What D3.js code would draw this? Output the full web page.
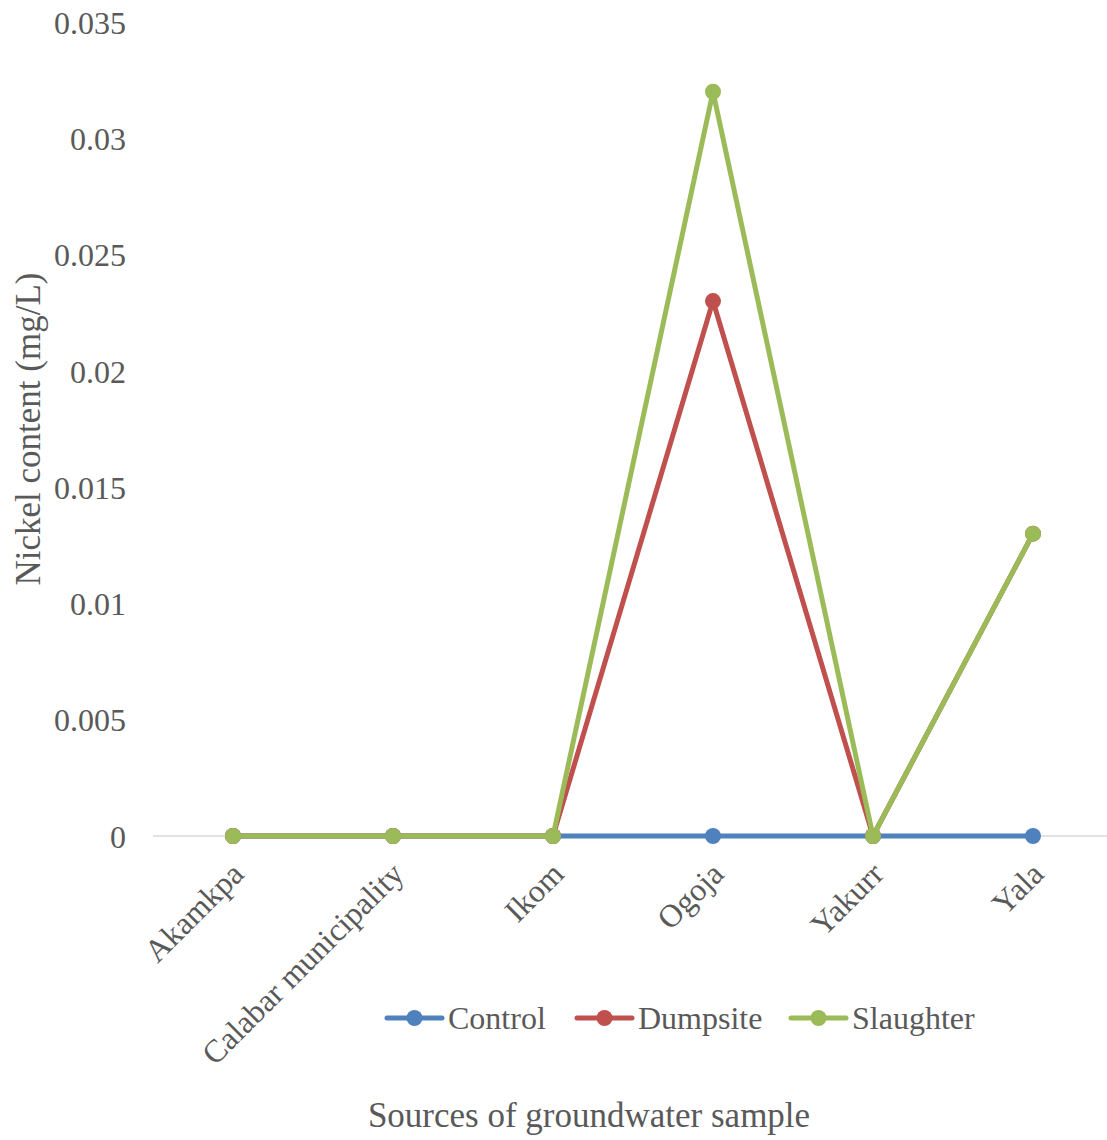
<!DOCTYPE html>
<html>
<head>
<meta charset="utf-8">
<script src="https://cdn.jsdelivr.net/npm/d3@7"></script>
<style>
  html, body { margin: 0; padding: 0; background: #fff; }
  svg text { font-family: "Liberation Serif", "Times New Roman", serif; fill: #595959; }
</style>
</head>
<body>
<svg id="chart" width="1107" height="1140"></svg>
<script>
// Nickel content in groundwater by sampling location
const categories = ["Akamkpa", "Calabar municipality", "Ikom", "Ogoja", "Yakurr", "Yala"];
const seriesNames = ["Control", "Dumpsite", "Slaughter"];
const controlValues = [0, 0, 0, 0, 0, 0];
const dumpsiteValues = [0, 0, 0, 0.023, 0, 0.013];
const slaughterValues = [0, 0, 0, 0.032, 0, 0.013];
const yTicks = [0, 0.005, 0.01, 0.015, 0.02, 0.025, 0.03, 0.035];
const yTickLabels = ["0", "0.005", "0.01", "0.015", "0.02", "0.025", "0.03", "0.035"];
const colors = ["#4f81bd", "#c0504d", "#9bbb59"];

const series = [controlValues, dumpsiteValues, slaughterValues].map((vals, i) => ({
  name: seriesNames[i], color: colors[i], values: vals
}));

const svg = d3.select("#chart");
const W = 1107, H = 1140;
const plot = { left: 153, right: 1113, top: 22, bottom: 836 };

const x = d3.scalePoint().domain(categories).range([plot.left, plot.right]).padding(0.5);
const y = d3.scaleLinear().domain([0, 0.035]).range([plot.bottom, plot.top]);

// baseline
svg.append("line")
  .attr("x1", plot.left).attr("x2", W)
  .attr("y1", y(0)).attr("y2", y(0))
  .attr("stroke", "#d9d9d9").attr("stroke-width", 1.5);

// y axis labels
const yAxis = d3.axisLeft(y).tickValues(yTicks).tickFormat((d, i) => yTickLabels[i]).tickSize(0).tickPadding(0);
const yg = svg.append("g").attr("transform", `translate(126,0)`).call(yAxis);
yg.select(".domain").remove();
yg.selectAll("text").attr("font-size", 32).attr("font-family", "Liberation Serif").attr("fill", "#595959").attr("dy", "0.35em");

// x axis labels rotated
const xAxis = d3.axisBottom(x).tickSize(0).tickPadding(0);
const xg = svg.append("g").attr("transform", `translate(0,${y(0)})`).call(xAxis);
xg.select(".domain").remove();
xg.selectAll("text")
  .attr("font-size", 32).attr("font-family", "Liberation Serif").attr("fill", "#595959")
  .attr("text-anchor", "end")
  .attr("dy", 0)
  .attr("transform", "translate(12,40) rotate(-45)");

// lines and markers
const line = d3.line().x((d, i) => x(categories[i])).y(d => y(d));
series.forEach(s => {
  svg.append("path")
    .datum(s.values)
    .attr("d", line)
    .attr("fill", "none")
    .attr("stroke", s.color)
    .attr("stroke-width", 5)
    .attr("stroke-linejoin", "round")
    .attr("stroke-linecap", "round");
  svg.selectAll(null)
    .data(s.values)
    .enter().append("circle")
    .attr("cx", (d, i) => x(categories[i]))
    .attr("cy", d => y(d))
    .attr("r", 8)
    .attr("fill", s.color);
});

// axis titles
svg.append("text")
  .attr("transform", `translate(40,429) rotate(-90)`)
  .attr("text-anchor", "middle")
  .attr("font-size", 35)
  .text("Nickel content (mg/L)");

svg.append("text")
  .attr("x", 589).attr("y", 1127)
  .attr("text-anchor", "middle")
  .attr("font-size", 35)
  .text("Sources of groundwater sample");

// legend
const legendX = [387, 577, 791];
const legendY = 1018;
series.forEach((s, i) => {
  const g = svg.append("g").attr("transform", `translate(${legendX[i]},${legendY})`);
  g.append("line").attr("x1", 0).attr("x2", 55).attr("y1", 0).attr("y2", 0)
    .attr("stroke", s.color).attr("stroke-width", 5).attr("stroke-linecap", "round");
  g.append("circle").attr("cx", 27.5).attr("cy", 0).attr("r", 8).attr("fill", s.color);
  g.append("text").attr("x", 61).attr("y", 0).attr("dy", "0.35em")
    .attr("font-size", 32).text(s.name);
});
</script>
</body>
</html>
